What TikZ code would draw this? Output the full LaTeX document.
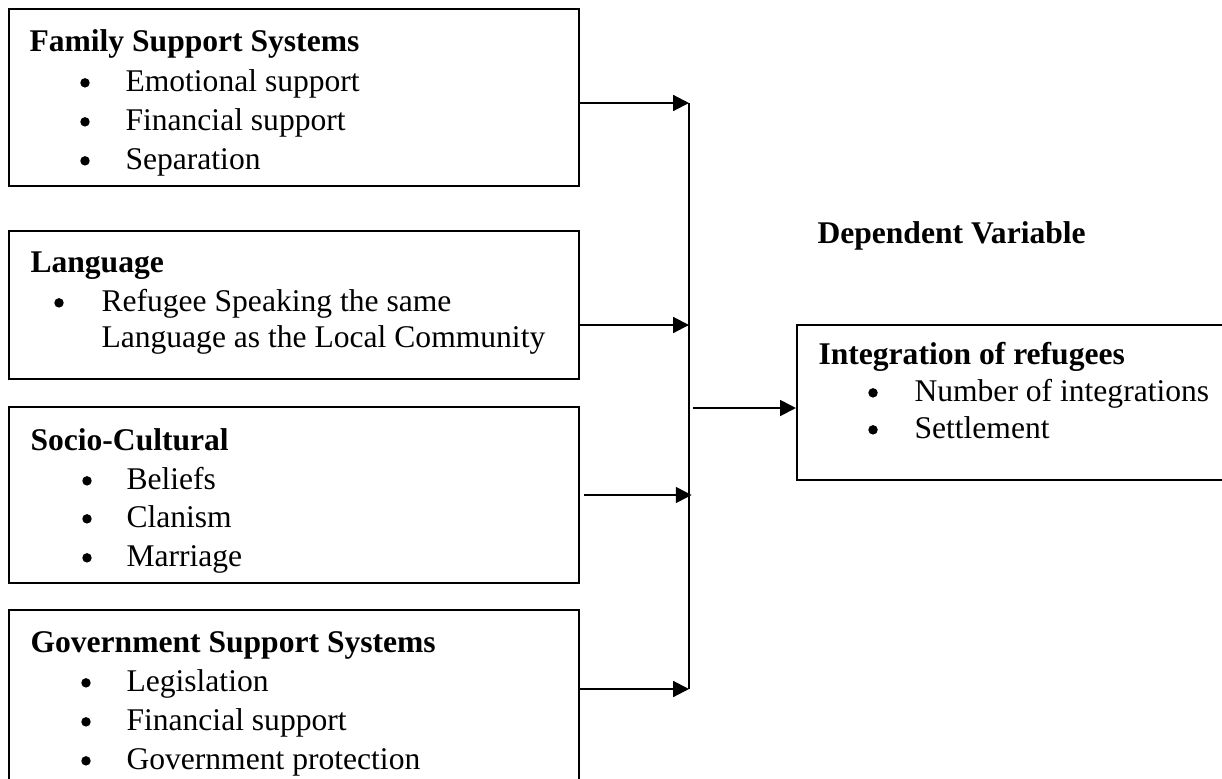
\documentclass[tikz,border=0pt]{standalone}
\usepackage{fontspec}
\setmainfont{Liberation Serif}
\usetikzlibrary{arrows.meta,fit}

\begin{document}
\begin{tikzpicture}[x=0.38pt,y=-0.38pt,font=\fontsize{12}{14}\selectfont,
	box/.style={draw,line width=0.8pt,inner sep=0pt},
	head/.style={anchor=base west,inner sep=0pt,font=\fontsize{12}{14}\selectfont\bfseries},
	item/.style={anchor=base west,inner sep=0pt},
	dot/.style={circle,fill=black,inner sep=0pt,minimum size=3.6pt,yshift=3.1pt},
	link/.style={line width=0.8pt,-{Triangle[length=6pt,width=6pt]}}]
	\useasboundingbox (0,0) rectangle (1222,778);
	% boxes
	\node	(fam) [box, fit={(9,9) (579,186)}] {};
	\node	(lang) [box, fit={(9,231) (579,379)}] {};
	\node	(soc) [box, fit={(9,407) (579,583)}] {};
	\node	(gov) [box, fit={(9,610) (579,800)}] {};
	\node	(integ) [box, fit={(797,325) (1240,480)}] {};
	% family support
	\node	(famh) at (29,51) [head] {Family Support Systems};
	\node	(famb1) at (85,91) [dot] {};
	\node	(fam1) at (125,91) [item] {Emotional support};
	\node	(famb2) at (85,130) [dot] {};
	\node	(fam2) at (125,130) [item] {Financial support};
	\node	(famb3) at (85,169) [dot] {};
	\node	(fam3) at (125,169) [item] {Separation};
	% language
	\node	(langh) at (30,272) [head] {Language};
	\node	(langb1) at (59,311) [dot] {};
	\node	(lang1) at (101,311) [item] {Refugee Speaking the same};
	\node	(lang2) at (101,347) [item] {Language as the Local Community};
	% socio-cultural
	\node	(soch) at (30,450) [head] {Socio-Cultural};
	\node	(socb1) at (87,489) [dot] {};
	\node	(soc1) at (126,489) [item] {Beliefs};
	\node	(socb2) at (87,527) [dot] {};
	\node	(soc2) at (126,527) [item] {Clanism};
	\node	(socb3) at (87,566) [dot] {};
	\node	(soc3) at (126,566) [item] {Marriage};
	% government support
	\node	(govh) at (30,652) [head] {Government Support Systems};
	\node	(govb1) at (86,691) [dot] {};
	\node	(gov1) at (126,691) [item] {Legislation};
	\node	(govb2) at (86,730) [dot] {};
	\node	(gov2) at (126,730) [item] {Financial support};
	\node	(govb3) at (86,769) [dot] {};
	\node	(gov3) at (126,769) [item] {Government protection};
	% dependent variable
	\node	(dep) at (817,243) [head] {Dependent Variable};
	\node	(integh) at (818,364) [head] {Integration of refugees};
	\node	(integb1) at (873,401) [dot] {};
	\node	(integ1) at (914,401) [item] {Number of integrations};
	\node	(integb2) at (873,438) [dot] {};
	\node	(integ2) at (914,438) [item] {Settlement};
	% joins on the bar
	\coordinate (j1) at (689,103);
	\coordinate (j2) at (689,325);
	\coordinate (j3) at (689,495);
	\coordinate (j4) at (689,689);
	\coordinate (jout) at (693,408);
	\draw[line width=0.8pt] (j1) -- (j4);
	\draw 
	(fam.east |- j1) edge[link] (j1)
	(lang.east |- j2) edge[link] (j2)
	([xshift=1.5pt]soc.east |- j3) edge[link] ([xshift=1pt]j3)
	(gov.east |- j4) edge[link] (j4)
	(jout) edge[link] (jout -| integ.west)
	;
\end{tikzpicture}
\end{document}
